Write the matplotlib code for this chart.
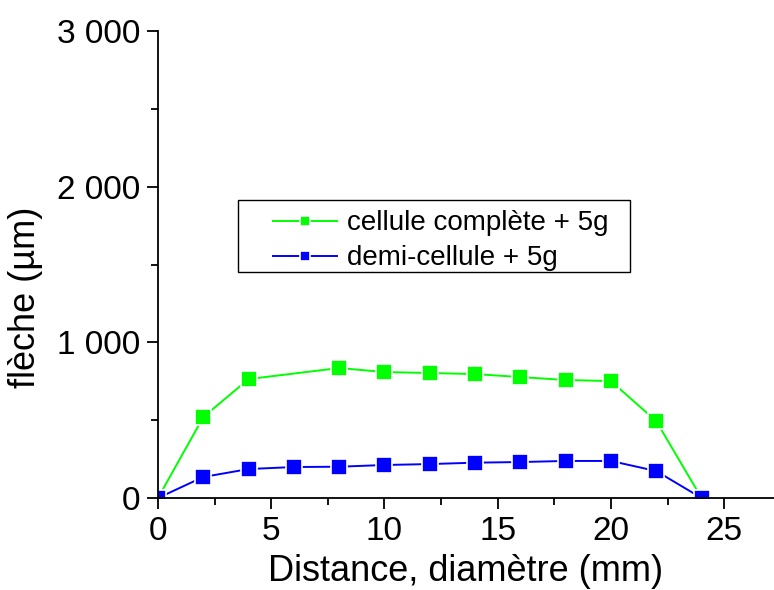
import matplotlib
matplotlib.use("Agg")
import matplotlib.pyplot as plt
from matplotlib.ticker import MultipleLocator, FuncFormatter
from matplotlib.patches import Rectangle

plt.rcParams['font.family'] = ['Liberation Sans', 'DejaVu Sans']

x_full = [0, 2, 4, 8, 10, 12, 14, 16, 18, 20, 22, 24]
y_full = [0, 520, 764, 835, 809, 803, 796, 777, 758, 751, 494, 0]
x_half = [0, 2, 4, 6, 8, 10, 12, 14, 16, 18, 20, 22, 24]
y_half = [0, 135, 186, 199, 201, 212, 218, 227, 231, 238, 238, 173, 0]

labels = ["cellule complète + 5g", "demi-cellule + 5g"]

W, H = 774, 590
fig = plt.figure(figsize=(W/100, H/100), dpi=100)
ax = fig.add_axes([158/W, 1 - 498/H, (W - 158)/W, (498 - 31)/H])

ax.plot(x_full, y_full, color='#00ff00', lw=1.4, marker='s', ms=11, mec='white', mew=1.2, mfc='#00ff00', label=labels[0])
ax.plot(x_half, y_half, color='#0000ff', lw=1.4, marker='s', ms=11, mec='white', mew=1.2, mfc='#0000ff', label=labels[1])

ax.set_xlim(0, 27.2)
ax.set_ylim(0, 3000)
ax.xaxis.set_major_locator(MultipleLocator(5))
ax.xaxis.set_minor_locator(MultipleLocator(2.5))
ax.yaxis.set_major_locator(MultipleLocator(1000))
ax.yaxis.set_minor_locator(MultipleLocator(500))
ax.yaxis.set_major_formatter(FuncFormatter(lambda v, p: f"{int(v):,}".replace(",", " ")))

for s in ['top', 'right']:
    ax.spines[s].set_visible(False)
for s in ['left', 'bottom']:
    ax.spines[s].set_linewidth(1.3)

ax.tick_params(which='major', direction='out', length=8, width=1.3, labelsize=24, pad=5)
ax.tick_params(which='minor', direction='out', length=5, width=1.3)

ax.set_xlabel("Distance, diamètre (mm)", fontsize=26, labelpad=5)
ax.set_ylabel("flèche (µm)", fontsize=26)
ax.yaxis.set_label_coords(-(158 - 43) / 616, (498 - 297) / 467)

# legend frame drawn separately for exact placement
fx0, fy0, fx1, fy1 = 238, 200, 630, 272
fig.patches.append(Rectangle((fx0/W, 1 - fy1/H), (fx1 - fx0)/W, (fy1 - fy0)/H,
                             transform=fig.transFigure, fill=True, facecolor='white',
                             edgecolor='black', lw=1.0, zorder=5))
leg = fig.legend(loc='upper left', bbox_to_anchor=(265/W, 1 - 202/H),
                 fontsize=20, frameon=False, markerscale=0.62,
                 handlelength=2.3, handletextpad=0.35, borderpad=0.3, labelspacing=0.33,
                 borderaxespad=0)
leg.set_zorder(6)

fig.savefig("out.png", dpi=100)
